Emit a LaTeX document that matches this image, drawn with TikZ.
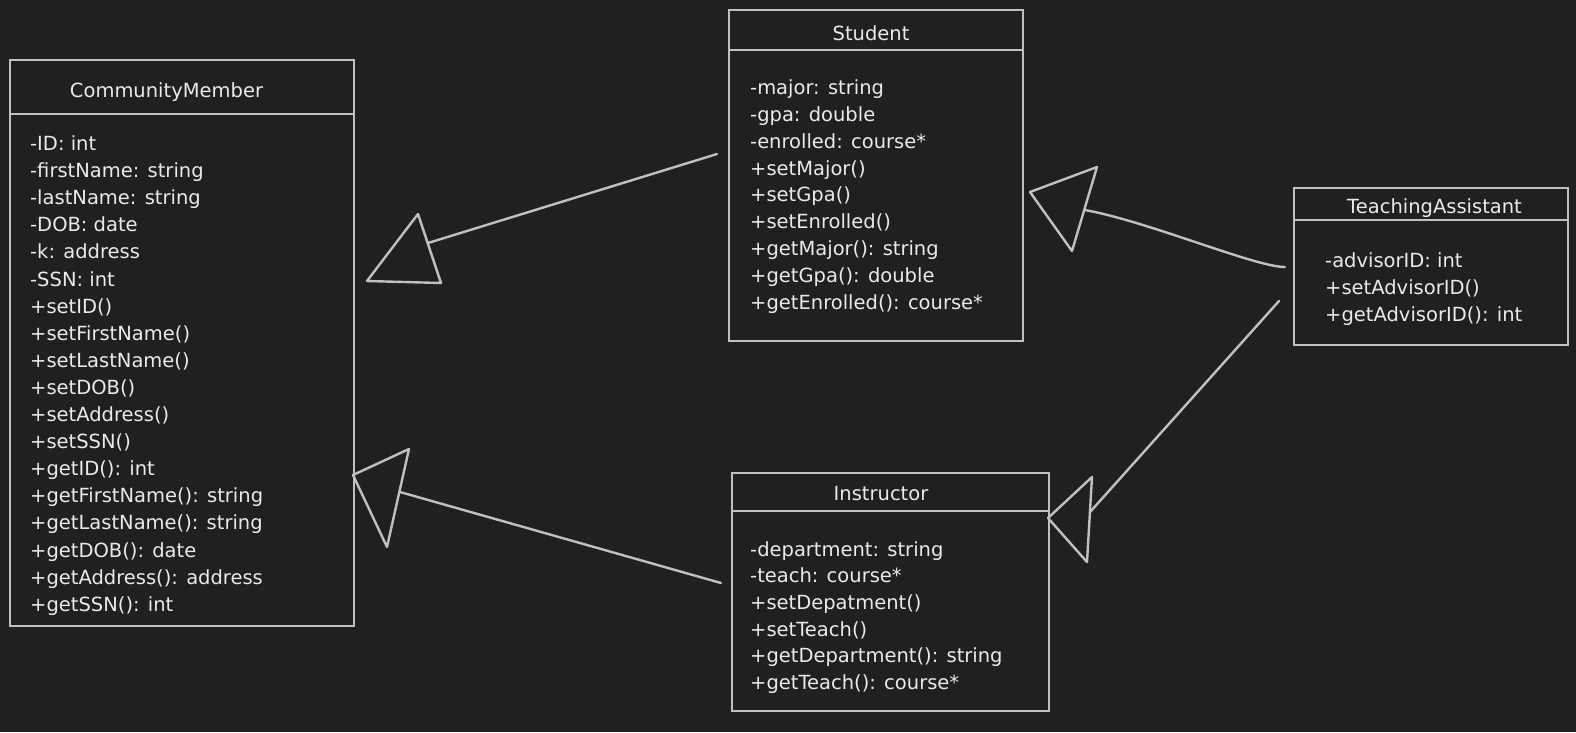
\documentclass[tikz,border=0pt]{standalone}
\usepackage{fontspec}
\setmainfont{DejaVu Sans}
\definecolor{bg}{RGB}{32,32,31}
\definecolor{ln}{RGB}{192,192,190}
\definecolor{tx}{RGB}{234,234,232}
\begin{document}
\begin{tikzpicture}[x=1pt,y=-1pt,
  umlbox/.style={draw=ln, line width=2.4pt, inner sep=0pt, anchor=north west},
  txt/.style={text=tx, font=\fontsize{19.5}{27}\selectfont, inner sep=0pt, anchor=base west},
  ttl/.style={text=tx, font=\fontsize{19.5}{27}\selectfont, inner sep=0pt, anchor=base},
  conn/.style={draw=ln, line width=2.4pt, line cap=round, line join=round}]
\fill[bg] (0,0) rectangle (1576,732);
\useasboundingbox (0,0) rectangle (1576,732);

% CommunityMember
\node[umlbox, minimum width=344pt, minimum height=54pt] (cmh) at (9,59) {};
\node[umlbox, minimum width=344pt, minimum height=512pt] (cmb) at (9,113) {};
\node[ttl] (cmt) at (166.5,97.3) {CommunityMember};
\foreach \t [count=\i] in {-ID: int,-firstName: string,-lastName: string,-DOB: date,-k: address,-SSN: int,+setID(),+setFirstName(),+setLastName(),+setDOB(),+setAddress(),+setSSN(),+getID(): int,+getFirstName(): string,+getLastName(): string,+getDOB(): date,+getAddress(): address,+getSSN(): int}
  \node[txt] (cm\i) at (30,{150.5+(\i-1)*27.1}) {\t};

% Student
\node[umlbox, minimum width=294pt, minimum height=40pt] (sth) at (728,9) {};
\node[umlbox, minimum width=294pt, minimum height=291pt] (stb) at (728,49) {};
\node[ttl] (stt) at (871,40) {Student};
\foreach \t [count=\i] in {-major: string,-gpa: double,-enrolled: course*,+setMajor(),+setGpa(),+setEnrolled(),+getMajor(): string,+getGpa(): double,+getEnrolled(): course*}
  \node[txt] (st\i) at (750,{94.3+(\i-1)*26.9}) {\t};

% Instructor
\node[umlbox, minimum width=317pt, minimum height=38pt] (inh) at (731,472) {};
\node[umlbox, minimum width=317pt, minimum height=200pt] (inb) at (731,510) {};
\node[ttl] (int) at (881,500) {Instructor};
\foreach \t [count=\i] in {-department: string,-teach: course*,+setDepatment(),+setTeach(),+getDepartment(): string,+getTeach(): course*}
  \node[txt] (in\i) at (750,{556+(\i-1)*26.7}) {\t};

% TeachingAssistant
\node[umlbox, minimum width=274pt, minimum height=32pt] (tah) at (1293,187) {};
\node[umlbox, minimum width=274pt, minimum height=125pt] (tab) at (1293,219) {};
\node[ttl] (tat) at (1434.5,213.3) {TeachingAssistant};
\foreach \t [count=\i] in {-advisorID: int,+setAdvisorID(),+getAdvisorID(): int}
  \node[txt] (ta\i) at (1325,{267+(\i-1)*27.3}) {\t};

% Student -> CommunityMember
\coordinate (a1s) at (717,154);
\coordinate (a1j) at (428,243);
\coordinate (a1p) at (367,281);
\coordinate (a1q) at (418,214);
\coordinate (a1r) at (441,283);
\draw[conn] (a1s) -- (a1j);
\draw[conn] (a1p) -- (a1q) -- (a1r) -- cycle;

% Instructor -> CommunityMember
\coordinate (a2s) at (721,583);
\coordinate (a2j) at (400,492);
\coordinate (a2p) at (353,475);
\coordinate (a2q) at (409,449);
\coordinate (a2r) at (387,547);
\draw[conn] (a2s) -- (a2j);
\draw[conn] (a2p) -- (a2q) -- (a2r) -- cycle;

% TeachingAssistant -> Student
\coordinate (a3s) at (1285,267);
\coordinate (a3j) at (1085,210);
\coordinate (a3p) at (1030,192);
\coordinate (a3q) at (1097,167);
\coordinate (a3r) at (1072,251);
\draw[conn] (a3s) .. controls (1255,267) and (1150,222) .. (a3j);
\draw[conn] (a3p) -- (a3q) -- (a3r) -- cycle;

% TeachingAssistant -> Instructor
\coordinate (a4s) at (1279,301);
\coordinate (a4j) at (1090,512);
\coordinate (a4p) at (1048,518);
\coordinate (a4q) at (1092,477);
\coordinate (a4r) at (1087,562);
\draw[conn] (a4s) -- (a4j);
\draw[conn] (a4p) -- (a4q) -- (a4r) -- cycle;
\end{tikzpicture}
\end{document}
